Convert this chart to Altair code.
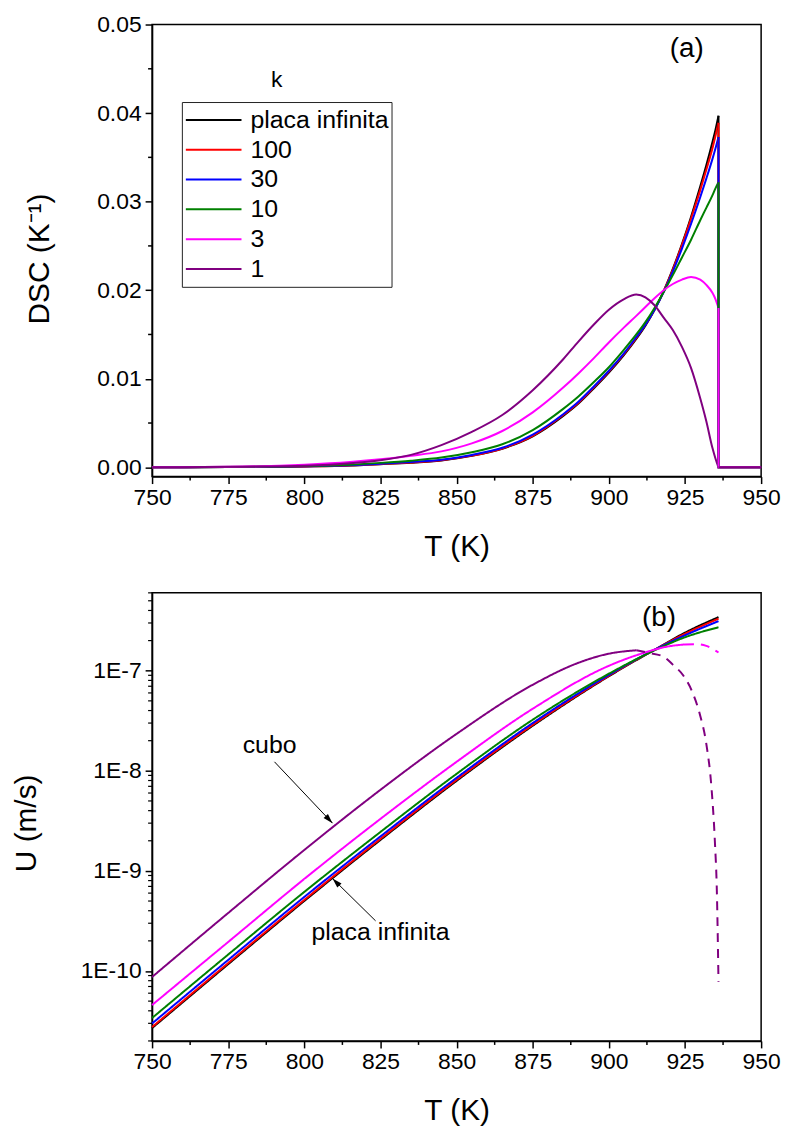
import altair as alt
import pandas as pd

FONT = "Liberation Sans"

k_names = ["placa infinita", "100", "30", "10", "3", "1"]
k_colors = ["#000000", "#ff0000", "#0000ff", "#008000", "#ff00ff", "#800080"]

# ---------------- panel (a): DSC (1/K) vs T (K) ----------------
dsc_T = [750, 775, 800, 815, 825, 835, 845, 855, 865, 875, 885, 890, 895, 900,
         905, 909, 912, 915, 918, 921, 924, 927, 930, 932, 934, 935, 936]
dsc_inf = [0, 0.00002, 0.0001, 0.0002, 0.00035, 0.00052, 0.00078, 0.0013, 0.0021, 0.0035,
           0.0058, 0.0072, 0.0089, 0.0107, 0.0127, 0.0145, 0.0160, 0.0178, 0.0199, 0.0224,
           0.0252, 0.0283, 0.0317, 0.0341, 0.0367, 0.0381, 0.0397]
dsc_100 = [0, 0.00002, 0.0001, 0.00021, 0.00037, 0.00054, 0.0008, 0.00132, 0.00213, 0.00355,
           0.0059, 0.0073, 0.0090, 0.0108, 0.0128, 0.0146, 0.0161, 0.0178, 0.0199, 0.0223,
           0.0251, 0.0281, 0.0313, 0.0336, 0.0360, 0.0374, 0.0389]
dsc_30 = [0, 0.00002, 0.00011, 0.00024, 0.00041, 0.0006, 0.00085, 0.0014, 0.0022, 0.0037,
          0.0060, 0.0074, 0.0091, 0.0109, 0.0129, 0.0147, 0.0161, 0.0178, 0.0198, 0.0221,
          0.0247, 0.0275, 0.0305, 0.0326, 0.0348, 0.0360, 0.0373]
dsc_10 = [0, 0.00003, 0.00014, 0.0003, 0.0005, 0.00075, 0.0011, 0.0017, 0.0026, 0.0042,
          0.0066, 0.0080, 0.0096, 0.0113, 0.0133, 0.0150, 0.0164, 0.0180, 0.0198, 0.0217,
          0.0237, 0.0257, 0.0279, 0.0293, 0.0307, 0.0315, 0.0322]
dsc_3 = [0, 0.00005, 0.0003, 0.0006, 0.0009, 0.0013, 0.0018, 0.0027, 0.0041, 0.0062,
         0.0090, 0.0106, 0.0123, 0.0141, 0.0158, 0.0171, 0.0181, 0.0191, 0.0200, 0.0207,
         0.0212, 0.0215, 0.0212, 0.0206, 0.0197, 0.0190, 0.0180]
dsc_1 = [0, 0.00005, 0.00018, 0.00045, 0.0008, 0.0014, 0.0025, 0.0040, 0.0059, 0.0087,
         0.0122, 0.0142, 0.0161, 0.0178, 0.0190, 0.0195, 0.0192, 0.0183, 0.0169, 0.0155,
         0.0136, 0.0112, 0.0078, 0.0052, 0.0022, 0.0010, 0.0]
# after the end of crystallisation every curve drops to zero
tail_T = [936, 950]
tail_v = [0.0, 0.0]

# ---------------- panel (b): U (m/s) vs T (K) ----------------
u_T = [750, 775, 800, 825, 850, 875, 900, 915, 925, 936]
u_inf = [2.69e-11, 1.17e-10, 5.01e-10, 2.04e-9, 7.94e-9, 2.82e-8, 8.81e-8, 1.62e-7, 2.40e-7, 3.43e-7]
u_100 = [2.75e-11, 1.20e-10, 5.13e-10, 2.09e-9, 8.13e-9, 2.88e-8, 8.91e-8, 1.62e-7, 2.34e-7, 3.31e-7]
u_30 = [2.99e-11, 1.29e-10, 5.50e-10, 2.21e-9, 8.51e-9, 3.00e-8, 9.08e-8, 1.62e-7, 2.26e-7, 3.13e-7]
u_10 = [3.39e-11, 1.46e-10, 6.17e-10, 2.45e-9, 9.33e-9, 3.24e-8, 9.33e-8, 1.60e-7, 2.16e-7, 2.72e-7]
u3_T = [750, 775, 800, 825, 850, 875, 900, 910, 920, 925]
u_3 = [4.57e-11, 1.95e-10, 8.32e-10, 3.31e-9, 1.23e-8, 4.17e-8, 1.12e-7, 1.46e-7, 1.76e-7, 1.83e-7]
u3d_T = [925, 929, 932, 936]
u_3d = [1.83e-7, 1.84e-7, 1.77e-7, 1.52e-7]
u1_T = [750, 775, 800, 825, 850, 875, 890, 900, 909]
u_1 = [8.71e-11, 3.80e-10, 1.62e-9, 6.46e-9, 2.34e-8, 7.24e-8, 1.20e-7, 1.48e-7, 1.60e-7]
u1d_T = [909, 913, 918, 921, 924.5, 927.5, 930, 932, 933.7, 934.8, 935.5, 936]
u_1d = [1.60e-7, 1.51e-7, 1.38e-7, 1.15e-7, 8.91e-8, 6.03e-8, 3.55e-8, 1.86e-8, 6.76e-9,
        2.00e-9, 5.62e-10, 7.8e-11]

# annotations
a_txt = ["(a)", "k"]
a_T = [925.6, 790.9]
a_v = [0.0472, 0.04376]
a_fs = [28, 23]

b_txt = ["(b)", "cubo", "placa infinita"]
b_T = [916.5, 788.6, 825.0]
b_U = [3.36e-7, 1.80e-8, 2.44e-10]
b_fs = [28, 25, 25]

arr_T0 = [790.2, 823.4]
arr_U0 = [1.23e-8, 3.17e-10]
arr_T1 = [809.25, 809.25]
arr_U1 = [3.0e-9, 8.4e-10]
arr_ang = [136.7, 315.5]

# tick values (major ticks are labelled, minor ones are not)
x_major = [750 + 25 * i for i in range(9)]
x_minor = [762.5 + 25 * i for i in range(8)]
dsc_major = [round(0.01 * i, 2) for i in range(6)]
dsc_minor = [round(0.005 + 0.01 * i, 3) for i in range(5)]
u_major = [1e-10, 1e-9, 1e-8, 1e-7]
u_minor = []
for e in range(-11, -6):
    for m in range(2, 10):
        v = float(f"{m}e{e}")
        if 2e-11 <= v <= 6e-7:
            u_minor.append(v)

# ---------------- build tables ----------------
rows, tails = [], []
for name, vals in zip(k_names, [dsc_inf, dsc_100, dsc_30, dsc_10, dsc_3, dsc_1]):
    for t, v in zip(dsc_T, vals):
        rows.append({"T": t, "DSC": v, "k": name})
    seq = [(dsc_T[-1], vals[-1])] + list(zip(tail_T, tail_v))
    for i, (t, v) in enumerate(seq):
        tails.append({"T": t, "DSC": v, "k": name, "i": i})
df_a = pd.DataFrame(rows)
df_tail = pd.DataFrame(tails)

urows = []
for name, ts, vals, seg in [
    ("placa infinita", u_T, u_inf, "solid"),
    ("100", u_T, u_100, "solid"),
    ("30", u_T, u_30, "solid"),
    ("10", u_T, u_10, "solid"),
    ("3", u3_T, u_3, "solid"),
    ("3", u3d_T, u_3d, "dashed"),
    ("1", u1_T, u_1, "solid"),
    ("1", u1d_T, u_1d, "dashed"),
]:
    for t, v in zip(ts, vals):
        urows.append({"T": t, "U": v, "k": name, "seg": seg})
df_b = pd.DataFrame(urows)

df_at = pd.DataFrame({"T": a_T, "DSC": a_v, "txt": a_txt, "fs": a_fs})
df_bt = pd.DataFrame({"T": b_T, "U": b_U, "txt": b_txt, "fs": b_fs})
df_arr = pd.DataFrame({"T0": arr_T0, "U0": arr_U0, "T1": arr_T1, "U1": arr_U1, "ang": arr_ang})
df_xminor = pd.DataFrame({"v": x_minor})
df_aminor = pd.DataFrame({"v": dsc_minor})
df_bminor = pd.DataFrame({"v": u_minor})

# ---------------- scales / axes ----------------
W = 613
H_A = 455
H_B = 451
MAJ = 7
MIN = 4
LBL = 23
TTL = 30

xscale = alt.Scale(domain=[750, 950], nice=False, zero=False)
yscale_a = alt.Scale(domain=[-0.00105, 0.05], nice=False, zero=False)
yscale_b = alt.Scale(type="log", domain=[2e-11, 6e-7], nice=False)
cscale = alt.Scale(domain=k_names, range=k_colors)


def X(field):
    return alt.X(field, scale=xscale, title="T (K)",
                 axis=alt.Axis(values=x_major, format="d", tickSize=MAJ,
                               title="T (K)", titlePadding=22, labelPadding=3))


def YA(field):
    return alt.Y(field, scale=yscale_a, title="DSC (K⁻¹)",
                 axis=alt.Axis(values=dsc_major, format=".2f", tickSize=MAJ,
                               title="DSC (K⁻¹)", titleX=-98, titleY=H_A / 2 + 8, labelPadding=4))


def YB(field):
    return alt.Y(field, scale=yscale_b, title="U (m/s)",
                 axis=alt.Axis(values=u_major, tickSize=MAJ,
                               labelExpr="'1E' + round(log(datum.value)/LN10)",
                               title="U (m/s)", titleX=-111, titleY=H_B / 2 + 6, labelPadding=4))


legend_a = alt.Legend(
    orient="none", legendX=30, legendY=78, direction="vertical",
    symbolType="stroke", symbolSize=3136, symbolStrokeWidth=2,
    clipHeight=30, rowPadding=0, padding=3, labelOffset=8,
    labelFont=FONT, labelFontSize=25, labelColor="black",
    strokeColor="#222222", title=None,
)
color_a = alt.Color("k:N", scale=cscale, legend=legend_a)


def minor_x(h):
    return alt.Chart(df_xminor).mark_rule(color="black", strokeWidth=1.5).encode(
        x=X("v:Q"), y=alt.value(h), y2=alt.value(h + MIN),
    )


# ---------------- panel (a) ----------------
lines_a = alt.Chart(df_a).mark_line(strokeWidth=2, interpolate="monotone").encode(
    x=X("T:Q"), y=YA("DSC:Q"), color=color_a,
)
tail_a = alt.Chart(df_tail).mark_line(strokeWidth=2).encode(
    x=X("T:Q"), y=YA("DSC:Q"), color=color_a, order="i:Q",
)
text_a = alt.Chart(df_at).mark_text(font=FONT, color="black", align="center", baseline="middle").encode(
    x=X("T:Q"), y=YA("DSC:Q"), text="txt:N",
    size=alt.Size("fs:Q", scale=None, legend=None),
)
yminor_a = alt.Chart(df_aminor).mark_rule(color="black", strokeWidth=1.5).encode(
    y=YA("v:Q"), x=alt.value(0), x2=alt.value(-MIN),
)
top = alt.layer(lines_a, tail_a, text_a, yminor_a, minor_x(H_A)).properties(width=W, height=H_A)

# ---------------- panel (b) ----------------
lines_b = alt.Chart(df_b).mark_line(strokeWidth=2, interpolate="monotone").encode(
    x=X("T:Q"), y=YB("U:Q"),
    color=alt.Color("k:N", scale=cscale, legend=None),
    strokeDash=alt.StrokeDash("seg:N", scale=alt.Scale(domain=["solid", "dashed"], range=[[1, 0], [9, 7]]), legend=None),
)
rules_b = alt.Chart(df_arr).mark_rule(color="black", strokeWidth=1).encode(
    x=X("T0:Q"), y=YB("U0:Q"), x2="T1:Q", y2="U1:Q",
)
heads_b = alt.Chart(df_arr).mark_point(
    shape="M0,0L1,3.3L-1,3.3Z", filled=True, size=36, color="black", opacity=1, strokeWidth=0
).encode(
    x=X("T1:Q"), y=YB("U1:Q"), angle=alt.Angle("ang:Q", scale=None),
)
text_b = alt.Chart(df_bt).mark_text(font=FONT, color="black", align="center", baseline="middle").encode(
    x=X("T:Q"), y=YB("U:Q"), text="txt:N",
    size=alt.Size("fs:Q", scale=None, legend=None),
)
yminor_b = alt.Chart(df_bminor).mark_rule(color="black", strokeWidth=1.2).encode(
    y=YB("v:Q"), x=alt.value(0), x2=alt.value(-MIN),
)
bottom = alt.layer(lines_b, rules_b, heads_b, text_b, yminor_b, minor_x(H_B)).properties(width=W, height=H_B)

chart = (
    alt.vconcat(top, bottom, spacing=29)
    .resolve_scale(color="independent", strokeDash="independent", size="independent")
    .properties(padding={"left": 3, "top": 1, "right": 0, "bottom": 0})
    .configure_view(stroke="black", strokeWidth=1.5)
    .configure_axis(
        labelFont=FONT, titleFont=FONT, labelFontSize=LBL, titleFontSize=TTL,
        titleFontWeight="normal", labelColor="black", titleColor="black",
        domainColor="black", tickColor="black", domainWidth=1.5, tickWidth=1.5,
        grid=False, labelFlush=False, labelOverlap=False,
    )
)

chart.save("out.html", embed_options={"renderer": "svg", "actions": False})
